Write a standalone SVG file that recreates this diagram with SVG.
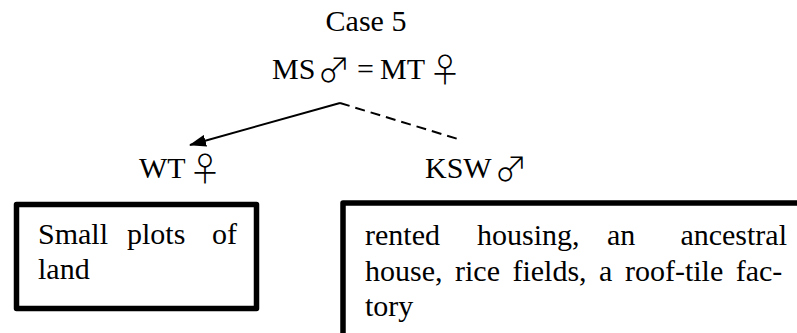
<svg xmlns="http://www.w3.org/2000/svg" width="797" height="333" viewBox="0 0 797 333">
  <style>
    .t { font-family: "Liberation Serif", "Times New Roman", serif; font-size: 30px; fill: #000; }
    .sym { font-family: "Noto Sans CJK JP", "DejaVu Sans", sans-serif; font-size: 33px; font-weight: 300; fill: #000; }
    .box { fill: none; stroke: #000; stroke-width: 5.5; stroke-linejoin: round; }
    .edge { fill: none; stroke: #000; stroke-width: 2; }
  </style>
  <defs>
    <marker id="arrowhead" viewBox="0 0 17 12" refX="16" refY="6" markerWidth="17" markerHeight="12" markerUnits="userSpaceOnUse" orient="auto">
      <path d="M0,0 L17,6 L0,12 Z" fill="#000"/>
    </marker>
  </defs>
  <rect width="797" height="333" fill="#fff"/>

  <!-- title -->
  <g id="title">
    <text class="t" x="366" y="31" text-anchor="middle">Case 5</text>
  </g>

  <!-- parents -->
  <g id="parents">
    <text class="t" y="79"><tspan x="272">MS</tspan><tspan class="sym" x="334" y="82" text-anchor="middle">♂</tspan><tspan x="357" y="79">=</tspan><tspan x="380">MT</tspan><tspan class="sym" x="445" y="82" text-anchor="middle">♀</tspan></text>
  </g>

  <!-- connectors -->
  <g id="connectors">
    <line class="edge" x1="340" y1="103" x2="190" y2="145" marker-end="url(#arrowhead)"/>
    <line class="edge" x1="340" y1="103" x2="458" y2="139" stroke-dasharray="10 6"/>
  </g>

  <!-- child WT -->
  <g id="child-wt">
    <text class="t" y="178"><tspan x="139">WT</tspan><tspan class="sym" x="205" y="181" text-anchor="middle">♀</tspan></text>
  </g>

  <!-- child KSW -->
  <g id="child-ksw">
    <text class="t" y="178"><tspan x="425">KSW</tspan><tspan class="sym" x="511" y="181" text-anchor="middle">♂</tspan></text>
  </g>

  <!-- property of WT -->
  <g id="property-wt">
    <rect class="box" x="16.5" y="204.5" width="240" height="104"/>
    <text class="t" y="244"><tspan x="38">Small</tspan><tspan x="127">plots</tspan><tspan x="237" text-anchor="end">of</tspan></text>
    <text class="t" x="38" y="279">land</text>
  </g>

  <!-- property of KSW -->
  <g id="property-ksw">
    <rect class="box" x="343" y="203" width="480" height="160"/>
    <text class="t" y="245"><tspan x="365">rented</tspan><tspan x="477">housing,</tspan><tspan x="607">an</tspan><tspan x="787" text-anchor="end">ancestral</tspan></text>
    <text class="t" x="365" y="281" word-spacing="5">house, rice fields, a roof-tile fac-</text>
    <text class="t" x="365" y="316">tory</text>
  </g>
</svg>
